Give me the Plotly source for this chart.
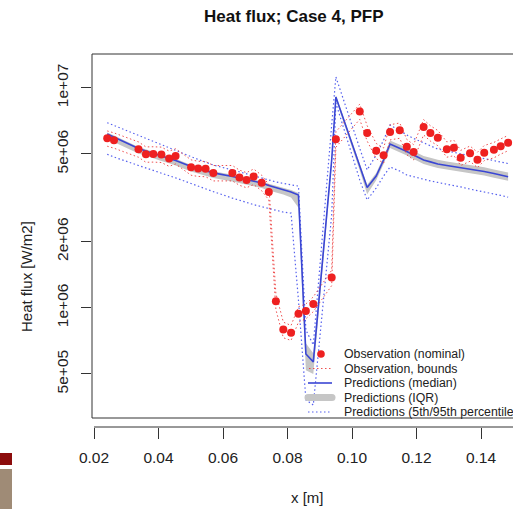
import plotly.graph_objects as go

# ---- data -------------------------------------------------------------
x_pos = [0.0241, 0.0262, 0.0338, 0.0361, 0.0384, 0.0409, 0.0433, 0.0453, 0.0501, 0.0523,
         0.0546, 0.0570, 0.0629, 0.0651, 0.0673, 0.0695, 0.0720, 0.0742, 0.0764, 0.0787,
         0.0811, 0.0834, 0.0857, 0.0880, 0.0937, 0.0950, 0.1024, 0.1047, 0.1075, 0.1098,
         0.1118, 0.1148, 0.1170, 0.1191, 0.1222, 0.1243, 0.1266, 0.1294, 0.1316, 0.1337,
         0.1366, 0.1389, 0.1410, 0.1440, 0.1461, 0.1484]

obs_nominal = [5.89e6, 5.77e6, 5.25e6, 4.98e6, 4.99e6, 4.97e6, 4.77e6, 4.89e6, 4.35e6, 4.29e6,
               4.28e6, 4.10e6, 4.10e6, 3.91e6, 3.81e6, 3.95e6, 3.70e6, 3.36e6, 1.07e6, 7.97e5,
               7.70e5, 9.39e5, 9.66e5, 1.04e6, 1.37e6, 5.83e6, 7.80e6, 6.22e6, 5.17e6, 4.93e6,
               6.29e6, 6.40e6, 5.39e6, 5.10e6, 6.63e6, 6.22e6, 5.92e6, 5.25e6, 5.34e6, 4.81e6,
               5.03e6, 4.71e6, 5.06e6, 5.22e6, 5.42e6, 5.62e6]

obs_lower = [5.42e6, 5.31e6, 4.83e6, 4.58e6, 4.59e6, 4.57e6, 4.39e6, 4.50e6, 4.00e6, 3.95e6,
             3.94e6, 3.77e6, 3.77e6, 3.60e6, 3.51e6, 3.63e6, 3.40e6, 3.09e6, 9.8e5, 7.3e5,
             7.1e5, 8.6e5, 8.9e5, 9.6e5, 1.26e6, 5.36e6, 7.18e6, 5.72e6, 4.76e6, 4.54e6,
             5.79e6, 5.89e6, 4.96e6, 4.69e6, 6.10e6, 5.72e6, 5.45e6, 4.83e6, 4.91e6, 4.43e6,
             4.63e6, 4.33e6, 4.66e6, 4.80e6, 4.99e6, 5.17e6]

obs_upper = [6.36e6, 6.23e6, 5.67e6, 5.38e6, 5.39e6, 5.37e6, 5.15e6, 5.28e6, 4.70e6, 4.63e6,
             4.62e6, 4.43e6, 4.43e6, 4.22e6, 4.11e6, 4.27e6, 4.00e6, 3.63e6, 1.16e6, 8.6e5,
             8.3e5, 1.01e6, 1.04e6, 1.12e6, 1.48e6, 6.30e6, 8.42e6, 6.72e6, 5.58e6, 5.32e6,
             6.79e6, 6.91e6, 5.82e6, 5.51e6, 7.16e6, 6.72e6, 6.39e6, 5.67e6, 5.77e6, 5.19e6,
             5.43e6, 5.09e6, 5.46e6, 5.64e6, 5.85e6, 6.07e6]

pred_median = [6.16e6, 5.97e6, 5.29e6, 5.16e6, 5.02e6, 4.89e6, 4.77e6, 4.67e6, 4.38e6, 4.29e6,
               4.18e6, 4.10e6, 3.95e6, 3.89e6, 3.81e6, 3.75e6, 3.69e6, 3.59e6, 3.52e6, 3.45e6,
               3.36e6, 3.25e6, 6.16e5, 5.67e5, 4.69e6, 9.07e6, 4.41e6, 3.52e6, 3.97e6, 4.69e6,
               5.55e6, 5.32e6, 5.13e6, 4.94e6, 4.69e6, 4.60e6, 4.50e6, 4.43e6, 4.38e6, 4.34e6,
               4.27e6, 4.20e6, 4.16e6, 4.07e6, 4.01e6, 3.94e6]

pred_q75 = [6.26e6, 6.07e6, 5.38e6, 5.25e6, 5.10e6, 4.97e6, 4.85e6, 4.75e6, 4.45e6, 4.36e6,
            4.25e6, 4.17e6, 4.02e6, 3.96e6, 3.88e6, 3.82e6, 3.76e6, 3.66e6, 3.59e6, 3.52e6,
            3.43e6, 3.32e6, 6.9e5, 6.2e5, 4.85e6, 9.25e6, 4.55e6, 3.62e6, 4.10e6, 4.85e6,
            5.75e6, 5.53e6, 5.34e6, 5.15e6, 4.89e6, 4.80e6, 4.70e6, 4.62e6, 4.57e6, 4.53e6,
            4.46e6, 4.39e6, 4.35e6, 4.25e6, 4.19e6, 4.12e6]

pred_q25 = [5.85e6, 5.66e6, 5.02e6, 4.90e6, 4.76e6, 4.64e6, 4.53e6, 4.43e6, 4.16e6, 4.07e6,
            3.97e6, 3.89e6, 3.75e6, 3.69e6, 3.62e6, 3.56e6, 3.50e6, 3.41e6, 3.34e6, 3.27e6,
            3.17e6, 2.85e6, 5.2e5, 5.0e5, 4.4e6, 8.85e6, 4.2e6, 3.28e6, 3.80e6, 4.50e6,
            5.32e6, 5.10e6, 4.92e6, 4.74e6, 4.50e6, 4.41e6, 4.32e6, 4.25e6, 4.20e6, 4.16e6,
            4.09e6, 4.03e6, 3.99e6, 3.90e6, 3.85e6, 3.78e6]

pred_p05 = [4.98e6, 4.84e6, 4.43e6, 4.32e6, 4.20e6, 4.10e6, 3.99e6, 3.89e6, 3.67e6, 3.57e6,
            3.46e6, 3.37e6, 3.15e6, 3.09e6, 3.01e6, 2.94e6, 2.88e6, 2.82e6, 2.77e6, 2.72e6,
            2.69e6, 1.08e6, 3.81e5, 3.61e5, 2.64e6, 8.52e6, 3.81e6, 3.09e6, 3.50e6, 3.97e6,
            4.36e6, 4.18e6, 4.01e6, 3.93e6, 3.83e6, 3.77e6, 3.71e6, 3.65e6, 3.59e6, 3.54e6,
            3.46e6, 3.41e6, 3.36e6, 3.29e6, 3.24e6, 3.18e6]

pred_p95 = [6.93e6, 6.73e6, 6.06e6, 5.88e6, 5.69e6, 5.49e6, 5.32e6, 5.18e6, 4.86e6, 4.72e6,
            4.60e6, 4.45e6, 4.23e6, 4.14e6, 4.05e6, 3.97e6, 3.89e6, 3.81e6, 3.73e6, 3.67e6,
            3.61e6, 3.57e6, 7.92e5, 6.77e5, 6.77e6, 1.12e7, 5.30e6, 4.23e6, 4.94e6, 5.78e6,
            6.77e6, 6.36e6, 6.10e6, 5.88e6, 5.61e6, 5.40e6, 5.26e6, 5.16e6, 5.08e6, 4.99e6,
            4.89e6, 4.82e6, 4.74e6, 4.67e6, 4.60e6, 4.52e6]

x_ticks = [0.02, 0.04, 0.06, 0.08, 0.10, 0.12, 0.14, 0.16]
x_ticklabels = ["0.02", "0.04", "0.06", "0.08", "0.10", "0.12", "0.14", "0.16"]
y_ticks = [5e5, 1e6, 2e6, 5e6, 1e7]
y_ticklabels = ["5e+05", "1e+06", "2e+06", "5e+06", "1e+07"]

legend_labels = ["Observation (nominal)", "Observation, bounds", "Predictions (median)",
                 "Predictions (IQR)", "Predictions (5th/95th percentiles)"]

# ---- styling ----------------------------------------------------------
W, H = 513, 509
M_L, M_T, M_B = 92, 54, 82
PW, PH = W - M_L, H - M_T - M_B
FONT = "Liberation Sans, Arial, Helvetica, sans-serif"
RED = "#ee2020"
BLUE = "#3a46d4"
BLUE_DOT = "#5560ee"
IQR_GREY = "#c6c6c6"
AXIS = "#333333"


def px_x(px):
    return (px - M_L) / PW


def px_y(py):
    return (H - M_B - py) / PH


fig = go.Figure()

# IQR band
fig.add_trace(go.Scatter(x=x_pos, y=pred_q75, mode="lines", line=dict(width=0),
                         hoverinfo="skip", showlegend=False))
fig.add_trace(go.Scatter(x=x_pos, y=pred_q25, mode="lines", line=dict(width=0),
                         fill="tonexty", fillcolor=IQR_GREY, showlegend=False))

# 5th / 95th percentiles
for series in (pred_p05, pred_p95):
    fig.add_trace(go.Scatter(x=x_pos, y=series, mode="lines",
                             line=dict(color=BLUE_DOT, width=1.2, dash="1.5px,2.5px"),
                             showlegend=False))

# median prediction
fig.add_trace(go.Scatter(x=x_pos, y=pred_median, mode="lines",
                         line=dict(color=BLUE, width=1.6), showlegend=False))

# observation bounds
for series in (obs_lower, obs_upper):
    fig.add_trace(go.Scatter(x=x_pos, y=series, mode="lines",
                             line=dict(color="rgba(235,50,50,0.85)", width=1, dash="1.5px,2.5px"),
                             showlegend=False))

# nominal observations
fig.add_trace(go.Scatter(x=x_pos, y=obs_nominal, mode="markers",
                         marker=dict(color=RED, size=8, line=dict(width=0)),
                         showlegend=False))

shapes = []
# plot box
shapes.append(dict(type="rect", xref="paper", yref="paper",
                   x0=0, x1=1.2, y0=px_y(418), y1=1,
                   line=dict(color=AXIS, width=1), layer="above"))
# x axis line (offset below the box)
shapes.append(dict(type="line", xref="x", yref="paper",
                   x0=x_ticks[0], x1=x_ticks[-1], y0=0, y1=0,
                   line=dict(color=AXIS, width=1)))

# side swatches
shapes.append(dict(type="rect", xref="paper", yref="paper",
                   x0=px_x(0), x1=px_x(12), y0=px_y(465), y1=px_y(453),
                   fillcolor="#8c0c0c", line=dict(width=0)))
shapes.append(dict(type="rect", xref="paper", yref="paper",
                   x0=px_x(0), x1=px_x(12), y0=px_y(509), y1=px_y(469),
                   fillcolor="#9f8b76", line=dict(width=0)))

# legend keys
row_y = [354, 368.5, 383, 397.5, 412]
shapes.append(dict(type="circle", xref="paper", yref="paper",
                   x0=px_x(317.2), x1=px_x(324.8), y0=px_y(357.8), y1=px_y(350.2),
                   fillcolor=RED, line=dict(width=0)))
shapes.append(dict(type="line", xref="paper", yref="paper",
                   x0=px_x(309), x1=px_x(333), y0=px_y(row_y[1]), y1=px_y(row_y[1]),
                   line=dict(color="rgba(235,50,50,0.85)", width=1, dash="1.5px,2.5px")))
shapes.append(dict(type="line", xref="paper", yref="paper",
                   x0=px_x(308), x1=px_x(332), y0=px_y(row_y[2]), y1=px_y(row_y[2]),
                   line=dict(color=BLUE, width=1.6)))
shapes.append(dict(type="line", xref="paper", yref="paper",
                   x0=px_x(308), x1=px_x(332), y0=px_y(row_y[3]), y1=px_y(row_y[3]),
                   line=dict(color=IQR_GREY, width=7)))
shapes.append(dict(type="circle", xref="paper", yref="paper",
                   x0=px_x(304.5), x1=px_x(311.5), y0=px_y(row_y[3] + 3.5), y1=px_y(row_y[3] - 3.5),
                   fillcolor=IQR_GREY, line=dict(width=0)))
shapes.append(dict(type="circle", xref="paper", yref="paper",
                   x0=px_x(328.5), x1=px_x(335.5), y0=px_y(row_y[3] + 3.5), y1=px_y(row_y[3] - 3.5),
                   fillcolor=IQR_GREY, line=dict(width=0)))
shapes.append(dict(type="line", xref="paper", yref="paper",
                   x0=px_x(308), x1=px_x(332), y0=px_y(row_y[4]), y1=px_y(row_y[4]),
                   line=dict(color=BLUE_DOT, width=1.2, dash="1.5px,2.5px")))

annotations = [
    dict(text="<b>Heat flux; Case 4, PFP</b>", xref="paper", yref="paper",
         x=px_x(294), y=px_y(17), xanchor="center", yanchor="middle", showarrow=False,
         font=dict(family=FONT, size=17, color="#111111")),
    dict(text="Heat flux [W/m2]", xref="paper", yref="paper", textangle=-90,
         x=px_x(26), y=px_y(277), xanchor="center", yanchor="middle", showarrow=False,
         font=dict(family=FONT, size=15, color="#222222")),
    dict(text="x [m]", xref="paper", yref="paper",
         x=px_x(307.5), y=px_y(498), xanchor="center", yanchor="middle", showarrow=False,
         font=dict(family=FONT, size=15, color="#222222")),
]
for label, ry in zip(legend_labels, row_y):
    annotations.append(dict(text=label, xref="paper", yref="paper",
                            x=px_x(342), y=px_y(ry), xanchor="left", yanchor="middle",
                            showarrow=False,
                            font=dict(family=FONT, size=12.3, color="#222222")))

fig.update_layout(
    width=W, height=H,
    margin=dict(l=M_L, r=0, t=M_T, b=M_B, pad=0),
    paper_bgcolor="white", plot_bgcolor="white",
    font=dict(family=FONT, color="#222222"),
    shapes=shapes, annotations=annotations,
    showlegend=False,
)
fig.update_xaxes(range=[0.01938, 0.14992], showgrid=False, zeroline=False, showline=False,
                 tickmode="array", tickvals=x_ticks, ticktext=x_ticklabels,
                 ticks="outside", ticklen=11, tickwidth=1, tickcolor=AXIS,
                 tickfont=dict(family=FONT, size=15.5, color="#222222"),
                 ticklabelstandoff=5)
fig.update_yaxes(type="log", range=[5.4577, 7.1532], showgrid=False, zeroline=False,
                 showline=False, tickmode="array", tickvals=y_ticks, ticktext=y_ticklabels,
                 ticks="outside", ticklen=10, tickwidth=1, tickcolor=AXIS, tickangle=-90,
                 tickfont=dict(family=FONT, size=15.5, color="#222222"),
                 ticklabelstandoff=7)

fig.write_html("out.html")
